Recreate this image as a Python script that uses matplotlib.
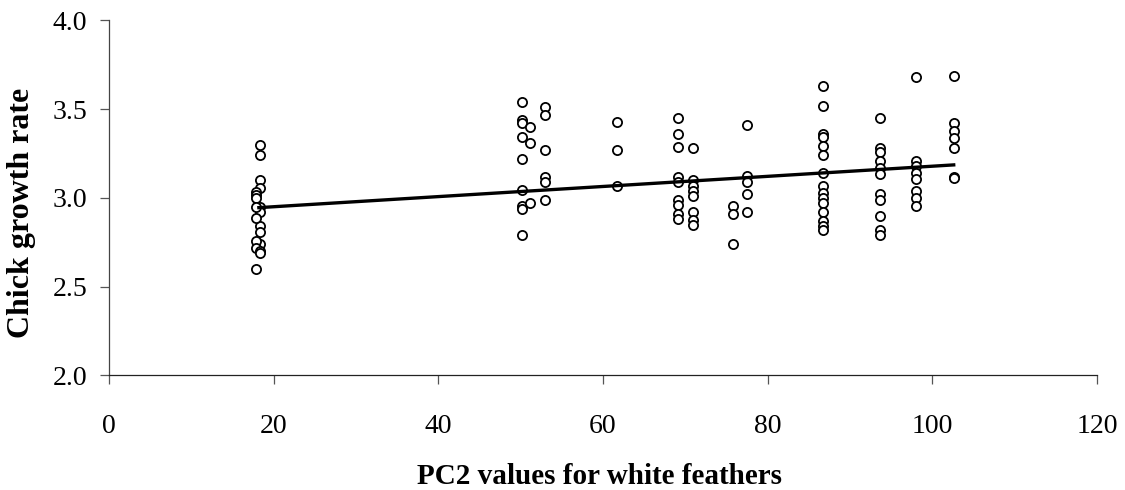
import matplotlib
matplotlib.use("Agg")
import matplotlib.pyplot as plt

# PC2 values (x) and chick growth rate (y), grouped by column
x_18a = [18.3] * 9
y_18a = [3.30, 3.24, 3.10, 3.055, 2.948, 2.92, 2.84, 2.81, 2.74]
x_18b = [17.8] * 8
y_18b = [3.035, 3.017, 2.998, 2.948, 2.89, 2.76, 2.716, 2.60]
x_18c = [18.3] * 2
y_18c = [2.70, 2.69]

x_50 = [50.2] * 9
y_50 = [3.54, 3.44, 3.42, 3.345, 3.22, 3.045, 2.955, 2.936, 2.79]
x_51 = [51.1] * 3
y_51 = [3.40, 3.31, 2.97]
x_53 = [53.0] * 6
y_53 = [3.51, 3.47, 3.27, 3.12, 3.09, 2.99]
x_62 = [61.7] * 3
y_62 = [3.43, 3.27, 3.07]
x_69 = [69.1] * 9
y_69 = [3.45, 3.36, 3.29, 3.12, 3.09, 2.99, 2.96, 2.91, 2.88]
x_71 = [70.9] * 8
y_71 = [3.28, 3.10, 3.07, 3.04, 3.01, 2.92, 2.876, 2.85]
x_76 = [75.8] * 3
y_76 = [2.957, 2.91, 2.74]
x_77 = [77.5] * 5
y_77 = [3.41, 3.125, 3.09, 3.02, 2.92]
x_87 = [86.7] * 15
y_87 = [3.63, 3.52, 3.36, 3.345, 3.295, 3.24, 3.14, 3.07, 3.03, 3.00,
        2.97, 2.92, 2.87, 2.84, 2.82]
x_94 = [93.6] * 11
y_94 = [3.45, 3.28, 3.26, 3.21, 3.17, 3.135, 3.02, 2.99, 2.90, 2.82, 2.79]
x_98 = [98.0] * 8
y_98 = [3.68, 3.21, 3.18, 3.14, 3.105, 3.04, 3.00, 2.957]
x_103 = [102.6] * 7
y_103 = [3.69, 3.42, 3.38, 3.34, 3.28, 3.12, 3.11]

x_values = (x_18a + x_18b + x_18c + x_50 + x_51 + x_53 + x_62 + x_69 + x_71
            + x_76 + x_77 + x_87 + x_94 + x_98 + x_103)
y_values = (y_18a + y_18b + y_18c + y_50 + y_51 + y_53 + y_62 + y_69 + y_71
            + y_76 + y_77 + y_87 + y_94 + y_98 + y_103)

# Regression line end points
trend_x = [18.0, 102.8]
trend_y = [2.945, 3.187]

x_ticks = [0, 20, 40, 60, 80, 100, 120]
y_ticks = [2.0, 2.5, 3.0, 3.5, 4.0]
x_label = "PC2 values for white feathers"
y_label = "Chick growth rate"

plt.rcParams['font.family'] = ['Liberation Serif', 'DejaVu Serif']

fig = plt.figure(figsize=(11.25, 4.9), dpi=100)
ax = fig.add_axes([0.0969, 0.2337, 0.9751 - 0.0969, 0.9582 - 0.2337])

ax.plot(x_values, y_values, linestyle='none', marker='o', markersize=6.6,
        markerfacecolor='white', markeredgecolor='black', markeredgewidth=1.3,
        zorder=2)
ax.plot(trend_x, trend_y, color='black', linewidth=2.4, zorder=3,
        solid_capstyle='butt')

ax.set_xlim(0, 120)
ax.set_ylim(2.0, 4.0)
ax.set_xticks(x_ticks)
ax.set_xticklabels([str(v) for v in x_ticks])
ax.set_yticks(y_ticks)
ax.set_yticklabels([f"{v:.1f}" for v in y_ticks])

for s in ['top', 'right']:
    ax.spines[s].set_visible(False)
ax.spines['left'].set_color('#444444')
ax.spines['bottom'].set_color('#222222')
ax.spines['left'].set_linewidth(0.9)
ax.spines['bottom'].set_linewidth(0.9)
ax.tick_params(axis='both', direction='out', length=6.5, width=0.9,
               color='#555555', labelsize=20, labelcolor='black')
ax.tick_params(axis='x', pad=21.5)
ax.tick_params(axis='y', pad=9)

ax.set_xlabel(x_label, fontsize=21, fontweight='bold')
ax.set_ylabel(y_label, fontsize=23, fontweight='bold')
ax.xaxis.set_label_coords(0.496, -0.2465)
ax.yaxis.set_label_coords(-0.0739, 0.458)

fig.savefig('out.png', dpi=100, facecolor='white')
